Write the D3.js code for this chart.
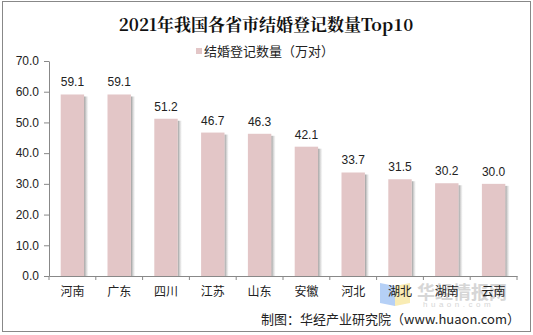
<!DOCTYPE html>
<html><head><meta charset="utf-8">
<script src="https://cdn.jsdelivr.net/npm/d3@7"></script>
<style>body{margin:0;background:#fff}svg{display:block}</style>
</head><body>
<svg id="c" width="533" height="335"></svg>
<script>
const categories = ["河南","广东","四川","江苏","山东","安徽","河北","湖北","湖南","云南"];
const values = [59.1,59.1,51.2,46.7,46.3,42.1,33.7,31.5,30.2,30.0];
const yTicks = [0,10,20,30,40,50,60,70];
const title = "2021年我国各省市结婚登记数量Top10";
const seriesName = "结婚登记数量（万对）";
const source = "制图：华经产业研究院（www.huaon.com）";
const watermark = "华经情报网";
const watermarkSub = "huaon.com";

const svg = d3.select("#c");
const font = "'Liberation Sans', Arial, 'Noto Sans CJK SC', sans-serif";
svg.append("rect").attr("x",2.5).attr("y",1.5).attr("width",528).attr("height",330)
  .attr("fill","#fff").attr("stroke","#888").attr("stroke-width",1);

const x = d3.scaleBand().domain(categories).range([49,517]).paddingInner(0.5).paddingOuter(0.25);
const y = d3.scaleLinear().domain([0,70]).range([276,61]);

const defs = svg.append("defs");
const g = defs.append("linearGradient").attr("id","sh").attr("x1",0).attr("x2",1);
g.append("stop").attr("offset","0%").attr("stop-color","#777").attr("stop-opacity",0.75);
g.append("stop").attr("offset","100%").attr("stop-color","#bbb").attr("stop-opacity",0.1);

svg.append("g").selectAll("rect").data(values).join("rect")
  .attr("x",(d,i)=>x(categories[i])+x.bandwidth())
  .attr("y",d=>y(d)+2).attr("width",4).attr("height",d=>y(0)-y(d)-2)
  .attr("fill","url(#sh)");
svg.append("g").selectAll("rect").data(values).join("rect")
  .attr("x",(d,i)=>x(categories[i])).attr("y",d=>y(d))
  .attr("width",x.bandwidth()).attr("height",d=>y(0)-y(d))
  .attr("fill","#E3C6C7");

const ya = svg.append("g").attr("transform","translate(49,0)")
  .call(d3.axisLeft(y).tickValues(yTicks).tickFormat(d3.format(".1f")).tickSize(5).tickSizeOuter(0));
ya.select(".domain").attr("stroke","#888");
ya.selectAll(".tick line").attr("stroke","#888");
ya.selectAll(".tick text").attr("font-family",font).attr("font-size",12).attr("fill","#222").attr("x",-10);

// watermark (behind axis labels)
const wm = svg.append("g").attr("opacity",0.85);
wm.append("path").attr("d","M380,283 L395,286 L395,306 L380,303 Z").attr("fill","#a9c8f5");
wm.append("path").attr("d","M395,286 L410,283 L410,303 L395,306 Z").attr("fill","#f8e9a8");
wm.append("text").attr("x",417).attr("y",299).attr("font-family","'Noto Sans CJK SC', sans-serif")
  .attr("font-weight","bold").attr("font-size",18).attr("fill","#d0d0d0").text(watermark);
wm.append("text").attr("x",423).attr("y",307).attr("font-family",font)
  .attr("font-size",8).attr("letter-spacing",3.5).attr("fill","#d0d0d0").text(watermarkSub);

const xa = svg.append("g").attr("transform","translate(0,276)")
  .call(d3.axisBottom(x).tickSize(0).tickSizeOuter(0));
xa.select(".domain").attr("stroke","#888");
xa.selectAll(".tick text").attr("font-family","'Noto Sans CJK SC', sans-serif").attr("font-size",12).attr("fill","#222").attr("dy",17);
const step = x.step();
xa.selectAll(".sep").data(d3.range(categories.length+1)).join("line")
  .attr("x1",i=>49+i*step).attr("x2",i=>49+i*step).attr("y1",0).attr("y2",4).attr("stroke","#888");

svg.append("g").selectAll("text").data(values).join("text")
  .attr("x",(d,i)=>x(categories[i])+x.bandwidth()/2).attr("y",d=>y(d)-8)
  .attr("text-anchor","middle").attr("font-family",font).attr("font-size",12).attr("fill","#222")
  .text(d=>d3.format(".1f")(d));

svg.append("text").attr("x",266).attr("y",31).attr("text-anchor","middle")
  .attr("font-family","'Noto Serif CJK SC','Noto Sans CJK SC',serif").attr("font-weight","bold")
  .attr("font-size",17).attr("fill","#111").text(title);

svg.append("rect").attr("x",196).attr("y",48).attr("width",6).attr("height",6).attr("fill","#E3C6C7");
svg.append("text").attr("x",204).attr("y",56).attr("font-family","'Noto Sans CJK SC', sans-serif")
  .attr("font-size",13).attr("fill","#222").text(seriesName);

svg.append("text").attr("x",520).attr("y",324).attr("text-anchor","end")
  .attr("font-family","'Noto Sans CJK SC', sans-serif").attr("font-size",13).attr("fill","#222").text(source);
</script>
</body></html>
